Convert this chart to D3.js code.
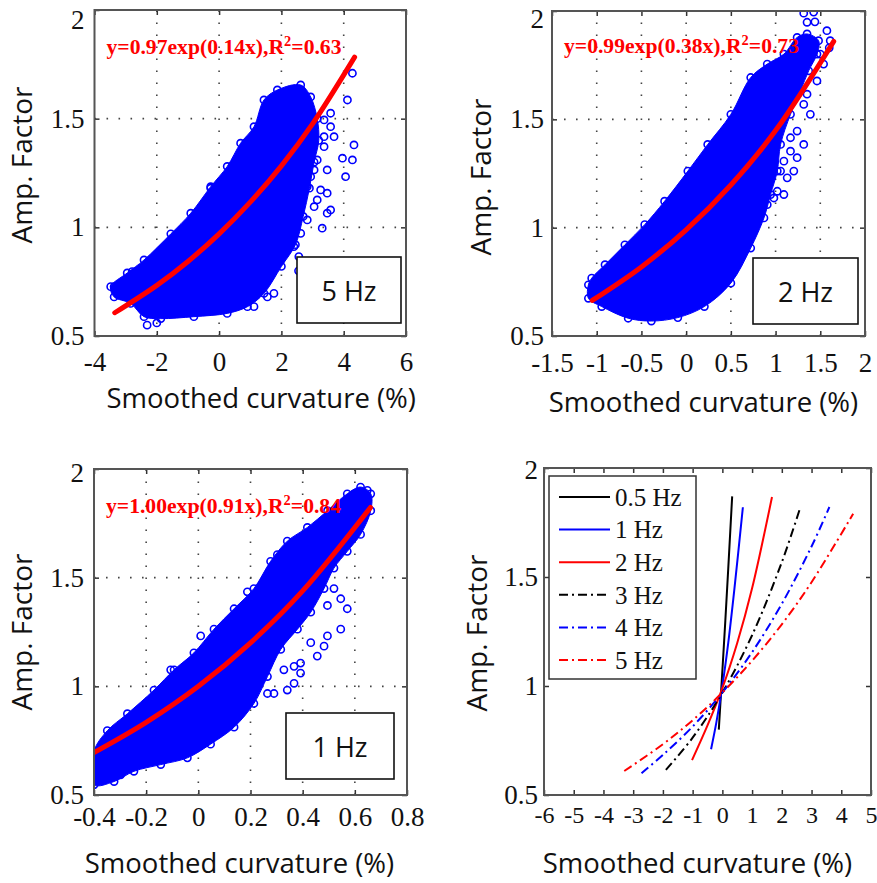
<!doctype html>
<html lang="en">
<head>
  <meta charset="utf-8">
  <title>Amp. Factor vs smoothed curvature</title>
  <style>
    body { margin: 0; background: #fff; }
    svg { display: block; }
  </style>
</head>
<body>
  <script src="https://cdn.jsdelivr.net/npm/d3@7"></script>
  <script>
    // ---- data ----
    var yTicks = [0.5, 1, 1.5, 2]
    var xTicks5 = [-4, -2, 0, 2, 4, 6]
    var xTicks2 = [-1.5, -1, -0.5, 0, 0.5, 1, 1.5, 2]
    var xTicks1 = [-0.4, -0.2, 0, 0.2, 0.4, 0.6, 0.8]
    var xTicksAll = [-6, -5, -4, -3, -2, -1, 0, 1, 2, 3, 4, 5]

    // dense part of each scatter cloud (outline) and the loose points around it
    var cloud5 = [[-3.48,0.727],[-2.95,0.79],[-2.41,0.85],[-1.55,0.97],[-0.91,1.065],[-0.27,1.187],[0.26,1.28],
      [0.69,1.387],[1.12,1.463],[1.44,1.586],[1.87,1.632],[2.62,1.655],[2.94,1.60],[3.15,1.50],[3.2,1.40],
      [3.05,1.30],[2.9,1.18],[2.7,1.05],[2.45,0.92],[2.0,0.82],[1.44,0.696],[0.91,0.635],[0.26,0.604],
      [-0.81,0.589],[-1.87,0.58],[-2.41,0.589],[-2.84,0.65],[-3.37,0.68]]
    var loose5 = [[4.28,1.709],[4.12,1.586],[3.58,1.525],[4.33,1.379],[3.96,1.318],[4.28,1.31],[4.06,1.233],
      [3.58,1.08],[3.31,0.996],[2.56,0.865],[1.76,0.696],[1.55,0.68],[1.12,0.635],[-0.27,1.18],[-2.31,0.55],
      [-2.79,0.796],[-3.37,0.727],[-3.21,0.696],[3.15,1.126],[3.47,1.157],[2.83,1.187],[3.05,1.264],
      [3.37,1.417],[3.58,1.463],[3.37,1.494],[3.69,1.417],[3.37,1.371],[3.47,1.264],[3.26,1.172],
      [3.05,1.095],[2.83,1.034],[3.47,1.065],[2.62,0.972],[2.40,0.911],[1.98,0.85],[2.94,1.233],
      [2.73,1.279],[3.15,1.31],[2.55,0.80],[-2.0,0.56]]

    var cloud2 = [[-1.093,0.736],[-1.093,0.674],[-0.944,0.636],[-0.648,0.582],[-0.389,0.569],[-0.093,0.585],
      [0.204,0.636],[0.5,0.744],[0.722,0.906],[0.87,1.045],[0.944,1.153],[1.019,1.261],[1.056,1.384],
      [1.167,1.523],[1.278,1.631],[1.37,1.724],[1.463,1.801],[1.481,1.863],[1.352,1.894],[1.241,1.878],
      [1.093,1.801],[0.907,1.755],[0.722,1.693],[0.5,1.523],[0.241,1.384],[0.019,1.261],[-0.241,1.122],
      [-0.463,1.014],[-0.685,0.921],[-0.907,0.829],[-1.056,0.767]]
    var loose2 = [[1.352,1.616],[1.315,1.569],[1.389,1.523],[1.241,1.446],[1.315,1.384],[1.167,1.353],
      [1.241,1.323],[1.093,1.307],[1.056,1.261],[1.204,1.261],[1.13,1.23],[0.944,1.23],[1.019,1.168],
      [0.907,1.106],[1.093,1.153],[1.167,1.415],[1.315,1.99],[1.426,1.995],[1.352,1.948],[1.574,1.909],
      [1.611,1.863],[1.5,1.801],[1.537,1.755],[1.463,1.677],[0.87,1.199],[0.981,1.137],[1.44,1.95],[1.6,1.83]]

    var cloud1 = [[-0.4,0.702],[-0.349,0.796],[-0.272,0.874],[-0.17,0.983],[-0.093,1.076],[-0.017,1.154],
      [0.06,1.263],[0.137,1.357],[0.213,1.45],[0.277,1.575],[0.341,1.668],[0.418,1.731],[0.495,1.808],
      [0.571,1.886],[0.622,1.917],[0.661,1.886],[0.661,1.808],[0.622,1.699],[0.571,1.621],[0.52,1.544],
      [0.482,1.45],[0.431,1.341],[0.38,1.263],[0.316,1.17],[0.265,1.045],[0.213,0.921],[0.137,0.812],
      [0.047,0.734],[-0.042,0.671],[-0.144,0.64],[-0.247,0.609],[-0.323,0.562],[-0.4,0.547]]
    var loose1 = [[0.546,1.403],[0.571,1.357],[0.495,1.372],[0.52,1.45],[0.546,1.263],[0.482,1.185],
      [0.431,1.201],[0.495,1.232],[0.456,1.139],[0.367,1.092],[0.392,1.061],[0.328,1.076],[0.367,1.014],
      [0.341,0.983],[0.29,0.967],[0.392,1.107],[0.188,1.435],[-0.106,1.076],[0.009,1.232],[-0.349,0.578],
      [-0.374,0.609],[-0.323,0.64],[-0.298,0.593],[-0.387,0.671],[0.597,1.886],[0.648,1.902],[0.622,1.824],
      [0.303,1.606],[0.265,0.967]]

    // fitted curves
    var fit5 = [[-3.35,0.607],[-2,0.733],[-1,0.843],[0,0.97],[1,1.116],[2,1.283],[3,1.476],[4.35,1.783]]
    var fit2 = [[-1.05,0.664],[-0.5,0.819],[0,0.99],[0.5,1.197],[1,1.448],[1.65,1.86]]
    var fit1 = [[-0.4,0.695],[-0.2,0.834],[0,1.0],[0.2,1.2],[0.4,1.439],[0.66,1.823]]

    // summary panel
    var freqs = ['0.5 Hz', '1 Hz', '2 Hz', '3 Hz', '4 Hz', '5 Hz']
    var curveColors = ['#000', '#0000ff', '#ff0000', '#000', '#0000ff', '#ff0000']
    var curves = [
      [[-0.12,0.80],[0.1,1.30],[0.33,1.87]],
      [[-0.38,0.71],[-0.2,0.834],[0,1.0],[0.2,1.2],[0.4,1.439],[0.69,1.82]],
      [[-1.02,0.66],[-0.5,0.819],[0,0.99],[0.5,1.197],[1,1.448],[1.67,1.867]],
      [[-1.9,0.615],[-1,0.763],[0,0.97],[1,1.233],[2,1.568],[2.6,1.81]],
      [[-2.72,0.60],[-2,0.684],[-1,0.814],[0,0.97],[1,1.155],[2,1.377],[3,1.64],[3.6,1.821]],
      [[-3.3,0.61],[-2,0.733],[-1,0.843],[0,0.97],[1,1.116],[2,1.283],[3,1.476],[4.4,1.79]]
    ]

    var serif = '"Liberation Serif", "Times New Roman", serif'
    var sans = '"Open Sans", Lato, sans-serif'

    var svg = d3.select('body').append('svg')
      .attr('width', 877)
      .attr('height', 883)

    function panel(opt) {
      var x = d3.scaleLinear().domain(opt.xDomain).range(opt.xRange)
      var y = d3.scaleLinear().domain([0.5, 2]).range(opt.yRange)
      var g = svg.append('g')
      var id = 'clip' + opt.id

      g.append('clipPath').attr('id', id)
        .append('rect')
          .attr('x', x.range()[0]).attr('y', y.range()[1])
          .attr('width', x.range()[1] - x.range()[0])
          .attr('height', y.range()[0] - y.range()[1])

      var plot = g.append('g').attr('clip-path', 'url(#' + id + ')')

      // dotted grid
      if (opt.grid) {
        plot.selectAll('.gx').data(opt.xTicks.slice(1, -1)).enter().append('line')
          .attr('x1', function(d) { return x(d) }).attr('x2', function(d) { return x(d) })
          .attr('y1', y.range()[0]).attr('y2', y.range()[1])
          .style('stroke', '#444').style('stroke-width', 1.6).style('stroke-dasharray', '1.6,10.4')
        plot.selectAll('.gy').data(yTicks.slice(1, -1)).enter().append('line')
          .attr('y1', function(d) { return y(d) }).attr('y2', function(d) { return y(d) })
          .attr('x1', x.range()[0]).attr('x2', x.range()[1])
          .style('stroke', '#444').style('stroke-width', 1.6).style('stroke-dasharray', '1.6,10.4')
      }

      var line = d3.line()
        .x(function(d) { return x(d[0]) })
        .y(function(d) { return y(d[1]) })

      if (opt.cloud) {
        plot.append('path')
          .attr('d', line.curve(d3.curveCatmullRomClosed.alpha(0.5))(opt.cloud))
          .style('fill', '#0000ff').style('stroke', '#0000ff')
          .style('stroke-width', 1).style('stroke-linejoin', 'round')
        plot.selectAll('.pt').data(opt.cloud.concat(opt.loose)).enter().append('circle')
          .attr('cx', function(d) { return x(d[0]) })
          .attr('cy', function(d) { return y(d[1]) })
          .attr('r', 3.6)
          .style('fill', 'none').style('stroke', '#0000ff').style('stroke-width', 1.6)
        plot.append('path')
          .attr('d', line.curve(d3.curveCatmullRom)(opt.fit))
          .style('fill', 'none').style('stroke', '#ff0000')
          .style('stroke-width', 5).style('stroke-linecap', 'round')
      }

      if (opt.curves) {
        opt.curves.forEach(function(c, i) {
          plot.append('path')
            .attr('d', line.curve(d3.curveCatmullRom)(c))
            .style('fill', 'none').style('stroke', curveColors[i]).style('stroke-width', 2)
            .style('stroke-dasharray', i > 2 ? '9,4,2,4' : null)
        })
      }

      // axes, ticks pointing inwards on all four sides
      var fmt = function(d) { return String(d) }
      g.append('g').attr('transform', 'translate(0,' + y.range()[0] + ')')
        .call(d3.axisBottom(x).tickValues(opt.xTicks).tickFormat(fmt).tickSize(-5).tickPadding(opt.xPad))
        .call(function(a) {
          a.selectAll('text').style('font-family', serif).style('font-size', opt.xFont + 'px').style('fill', '#111')
        })
      g.append('g').attr('transform', 'translate(0,' + y.range()[1] + ')')
        .call(d3.axisTop(x).tickValues(opt.xTicks).tickFormat('').tickSize(-5))
      g.append('g').attr('transform', 'translate(' + x.range()[0] + ',0)')
        .call(d3.axisLeft(y).tickValues(yTicks).tickFormat(fmt).tickSize(-5).tickPadding(opt.yPad))
        .call(function(a) {
          a.selectAll('text').style('font-family', serif).style('font-size', '27px').style('fill', '#111')
            .attr('dy', function(d) { return d === 2 ? opt.topDy : '0.32em' })
        })
      g.append('g').attr('transform', 'translate(' + x.range()[1] + ',0)')
        .call(d3.axisRight(y).tickValues(yTicks).tickFormat('').tickSize(-5))
      g.selectAll('.domain').remove()
      g.selectAll('.tick line').style('stroke', '#333').style('stroke-width', 1.5)

      g.append('rect')
        .attr('x', x.range()[0]).attr('y', y.range()[1])
        .attr('width', x.range()[1] - x.range()[0])
        .attr('height', y.range()[0] - y.range()[1])
        .style('fill', 'none').style('stroke', '#555').style('stroke-width', 2)

      // axis titles
      var xMid = (x.range()[0] + x.range()[1]) / 2
      g.append('text')
        .attr('x', xMid + opt.xLabel[0]).attr('y', y.range()[0] + opt.xLabel[1])
        .attr('text-anchor', 'middle')
        .style('font-family', sans).style('font-size', '27.5px').style('fill', '#111')
        .text('Smoothed curvature (%)')
      g.append('text')
        .attr('transform', 'translate(' + (x.range()[0] + opt.yLabel[0]) + ',' + opt.yLabel[1] + ') rotate(-90)')
        .attr('text-anchor', 'middle')
        .style('font-family', sans).style('font-size', '28px').style('fill', '#111')
        .text('Amp. Factor')

      // fit equation
      if (opt.eq) {
        var t = g.append('text')
          .attr('x', x.range()[0] + 12).attr('y', y.range()[1] + opt.eqDy)
          .attr('textLength', 235).attr('lengthAdjust', 'spacingAndGlyphs')
          .style('font-family', serif).style('font-weight', 'bold')
          .style('font-size', '21px').style('fill', '#ff0000')
        t.append('tspan').text(opt.eq[0] + ',R')
        t.append('tspan').attr('dy', -8).style('font-size', '14px').text('2')
        t.append('tspan').attr('dy', 8).text('=' + opt.eq[1])
      }

      // frequency box
      if (opt.tag) {
        var bx = x.range()[1] - opt.tag[0], by = y.range()[0] - opt.tag[1]
        g.append('rect').attr('x', bx).attr('y', by).attr('width', opt.tag[2]).attr('height', 66)
          .style('fill', '#fff').style('stroke', '#111').style('stroke-width', 1.6)
        g.append('text')
          .attr('x', bx + opt.tag[2] / 2).attr('y', by + 44)
          .attr('text-anchor', 'middle')
          .style('font-family', sans).style('font-size', '27px').style('fill', '#111')
          .text(opt.tagText)
      }

      return { x: x, y: y, g: g }
    }

    panel({ id: 5, xDomain: [-4, 6], xRange: [94.5, 406], yRange: [336, 10], xTicks: xTicks5, grid: true,
      cloud: cloud5, loose: loose5, fit: fit5, eq: ['y=0.97exp(0.14x)', '0.63'], eqDy: 44,
      tag: [109, 79, 104], tagText: '5 Hz', xPad: 16, xFont: 27, yPad: 10, topDy: '0.7em',
      xLabel: [11, 72], yLabel: [-62.5, 165] })

    panel({ id: 2, xDomain: [-1.5, 2], xRange: [552, 865], yRange: [336, 11], xTicks: xTicks2, grid: true,
      cloud: cloud2, loose: loose2, fit: fit2, eq: ['y=0.99exp(0.38x)', '0.73'], eqDy: 42,
      tag: [112, 78, 105], tagText: '2 Hz', xPad: 17, xFont: 27, yPad: 8, topDy: '0.62em',
      xLabel: [-5, 76], yLabel: [-61, 177] })

    panel({ id: 1, xDomain: [-0.4, 0.8], xRange: [94, 407], yRange: [795, 469], xTicks: xTicks1, grid: true,
      cloud: cloud1, loose: loose1, fit: fit1, eq: ['y=1.00exp(0.91x)', '0.84'], eqDy: 44,
      tag: [121, 82, 108], tagText: '1 Hz', xPad: 12, xFont: 27, yPad: 10, topDy: '0.45em',
      xLabel: [-11, 78], yLabel: [-62, 632] })

    var p4 = panel({ id: 4, xDomain: [-6, 5], xRange: [544, 871], yRange: [795, 468], xTicks: xTicksAll,
      curves: curves, xPad: 11, xFont: 24, yPad: 6, topDy: '0.4em',
      xLabel: [-10, 78], yLabel: [-57, 633] })

    // legend of the summary panel
    var legend = p4.g.append('g').attr('transform', 'translate(549,476)')
    legend.append('rect').attr('width', 147).attr('height', 203)
      .style('fill', '#fff').style('stroke', '#333').style('stroke-width', 1.5)
    var item = legend.selectAll('.item').data(freqs).enter().append('g')
      .attr('transform', function(d, i) { return 'translate(0,' + (21 + i * 32.6) + ')' })
    item.append('line').attr('x1', 10).attr('x2', 61)
      .style('stroke', function(d, i) { return curveColors[i] }).style('stroke-width', 2)
      .style('stroke-dasharray', function(d, i) { return i > 2 ? '9,4,2,4' : null })
    item.append('text').attr('x', 66).attr('dy', '0.35em')
      .style('font-family', serif).style('font-size', '25px').style('fill', '#111')
      .text(function(d) { return d })
  </script>
</body>
</html>
